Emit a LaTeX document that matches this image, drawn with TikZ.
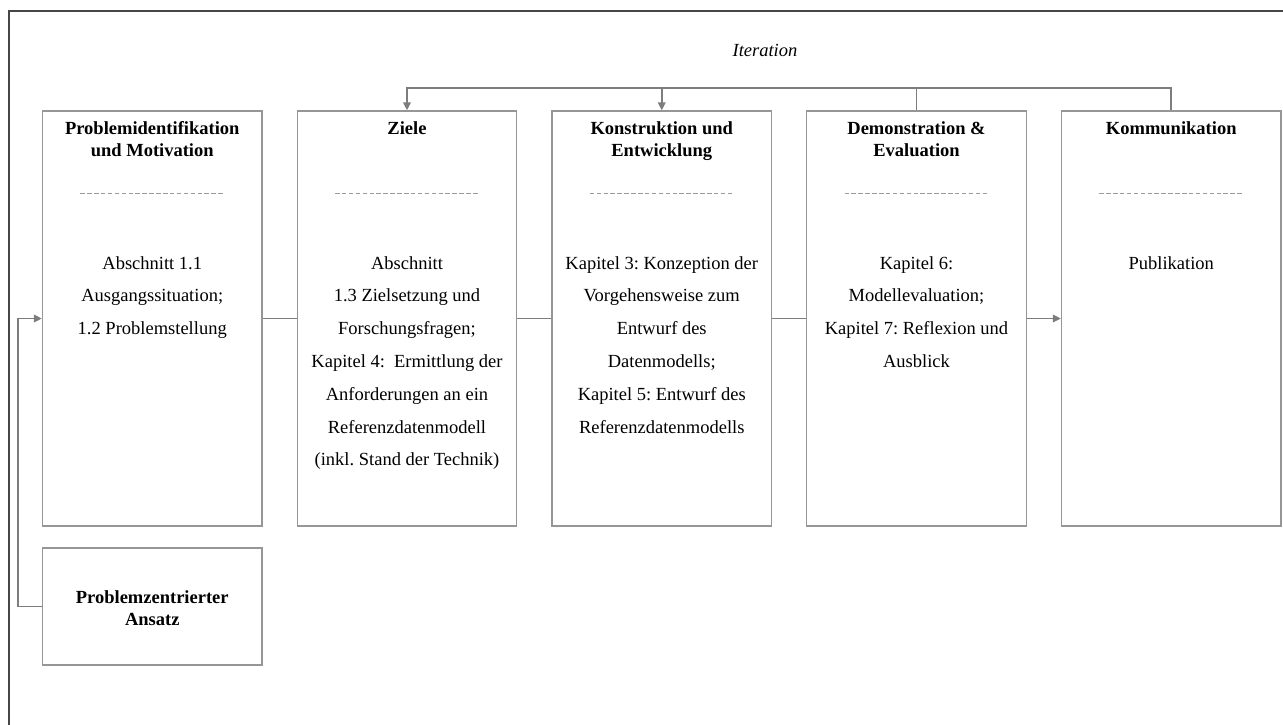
\documentclass[tikz,border=0pt]{standalone}
\usepackage{fontspec}
\setmainfont{Liberation Serif}
\usetikzlibrary{arrows.meta}
\frenchspacing

\definecolor{framegray}{RGB}{70,70,70}
\definecolor{boxgray}{RGB}{150,150,150}
\definecolor{linegray}{RGB}{125,125,125}
\definecolor{dashgray}{RGB}{155,155,155}

\tikzset{
  phase/.style={draw=boxgray, line width=1.3pt, fill=white, minimum width=219.5pt,
                minimum height=415pt, inner sep=0pt},
  startbox/.style={phase, minimum height=117pt},
  phasetitle/.style={anchor=north, align=center, inner sep=0pt,
                font=\fontsize{18.5}{22.5}\selectfont\bfseries,
                execute at begin node={\rule{0pt}{13pt}}},
  phasebody/.style={anchor=north, align=center, inner sep=0pt,
                font=\fontsize{18.5}{32.8}\selectfont,
                execute at begin node={\rule{0pt}{13pt}}},
  conn/.style={draw=linegray, line width=1.8pt},
  tip/.style={-{Triangle[length=8pt,width=7.5pt]}},
  sepline/.style={draw=dashgray, line width=0.8pt, dash pattern=on 4.5pt off 2.4pt},
  frameline/.style={draw=framegray, line width=2pt}
}

\begin{document}
\begin{tikzpicture}[x=1pt,y=-1pt]
  \useasboundingbox (0,0) rectangle (1283,725);

  % partial outer frame
  \draw[frameline] (9,725) -- (9,11) -- (1290,11);

  % phase boxes
  \node[phase] (b1) at (152.25,318.5) {};
  \node[phase] (b2) at (407,318.5) {};
  \node[phase] (b3) at (661.75,318.5) {};
  \node[phase] (b4) at (916.5,318.5) {};
  \node[phase] (b5) at (1171.25,318.5) {};
  \node[startbox] (b0) at (152.25,606.5) {};

  % titles
  \node[phasetitle] (t1) at (152.25,121) {Problemidentifikation\\und Motivation};
  \node[phasetitle] (t2) at (407,121) {Ziele};
  \node[phasetitle] (t3) at (661.75,121) {Konstruktion und\\Entwicklung};
  \node[phasetitle] (t4) at (916.5,121) {Demonstration \&\\Evaluation};
  \node[phasetitle] (t5) at (1171.25,121) {Kommunikation};
  \node[phasetitle] (t0) at (152.25,590) {Problemzentrierter\\Ansatz};

  % dashed separators
  \foreach \b in {b1,b2,b3,b4,b5}
    \draw[sepline] ([xshift=-72pt,yshift=-83pt]\b.north) -- ([xshift=72pt,yshift=-83pt]\b.north);

  % contents
  \node[phasebody] (c1) at (152.25,256) {Abschnitt 1.1\\Ausgangssituation;\\1.2 Problemstellung};
  \node[phasebody] (c2) at (407,256) {Abschnitt\\1.3 Zielsetzung und\\Forschungsfragen;\\Kapitel 4:\ \ Ermittlung der\\Anforderungen an ein\\Referenzdatenmodell\\(inkl. Stand der Technik)};
  \node[phasebody] (c3) at (661.75,256) {Kapitel 3: Konzeption der\\Vorgehensweise zum\\Entwurf des\\Datenmodells;\\Kapitel 5: Entwurf des\\Referenzdatenmodells};
  \node[phasebody] (c4) at (916.5,256) {Kapitel 6:\\Modellevaluation;\\Kapitel 7: Reflexion und\\Ausblick};
  \node[phasebody] (c5) at (1171.25,256) {Publikation};

  % sequence connectors
  \draw[conn] (b1.east) -- (b2.west);
  \draw[conn] (b2.east) -- (b3.west);
  \draw[conn] (b3.east) -- (b4.west);
  \draw[conn,tip] (b4.east) -- (b5.west);

  % entry point
  \draw[conn,tip] (b0.west) -- ++(-24,0) |- (b1.west);

  % iteration loop
  \coordinate (itlevel) at (0,88);
  \draw[conn,tip] (b5.north) -- (b5.north |- itlevel) -- (b2.north |- itlevel) -- (b2.north);
  \draw[conn] (b4.north) -- (b4.north |- itlevel);
  \draw[conn,tip] (b3.north |- itlevel) -- (b3.north);
  \node[anchor=base, inner sep=0pt, font=\fontsize{18.5}{22}\selectfont\itshape] (itlabel) at (765,57) {Iteration};
\end{tikzpicture}
\end{document}
